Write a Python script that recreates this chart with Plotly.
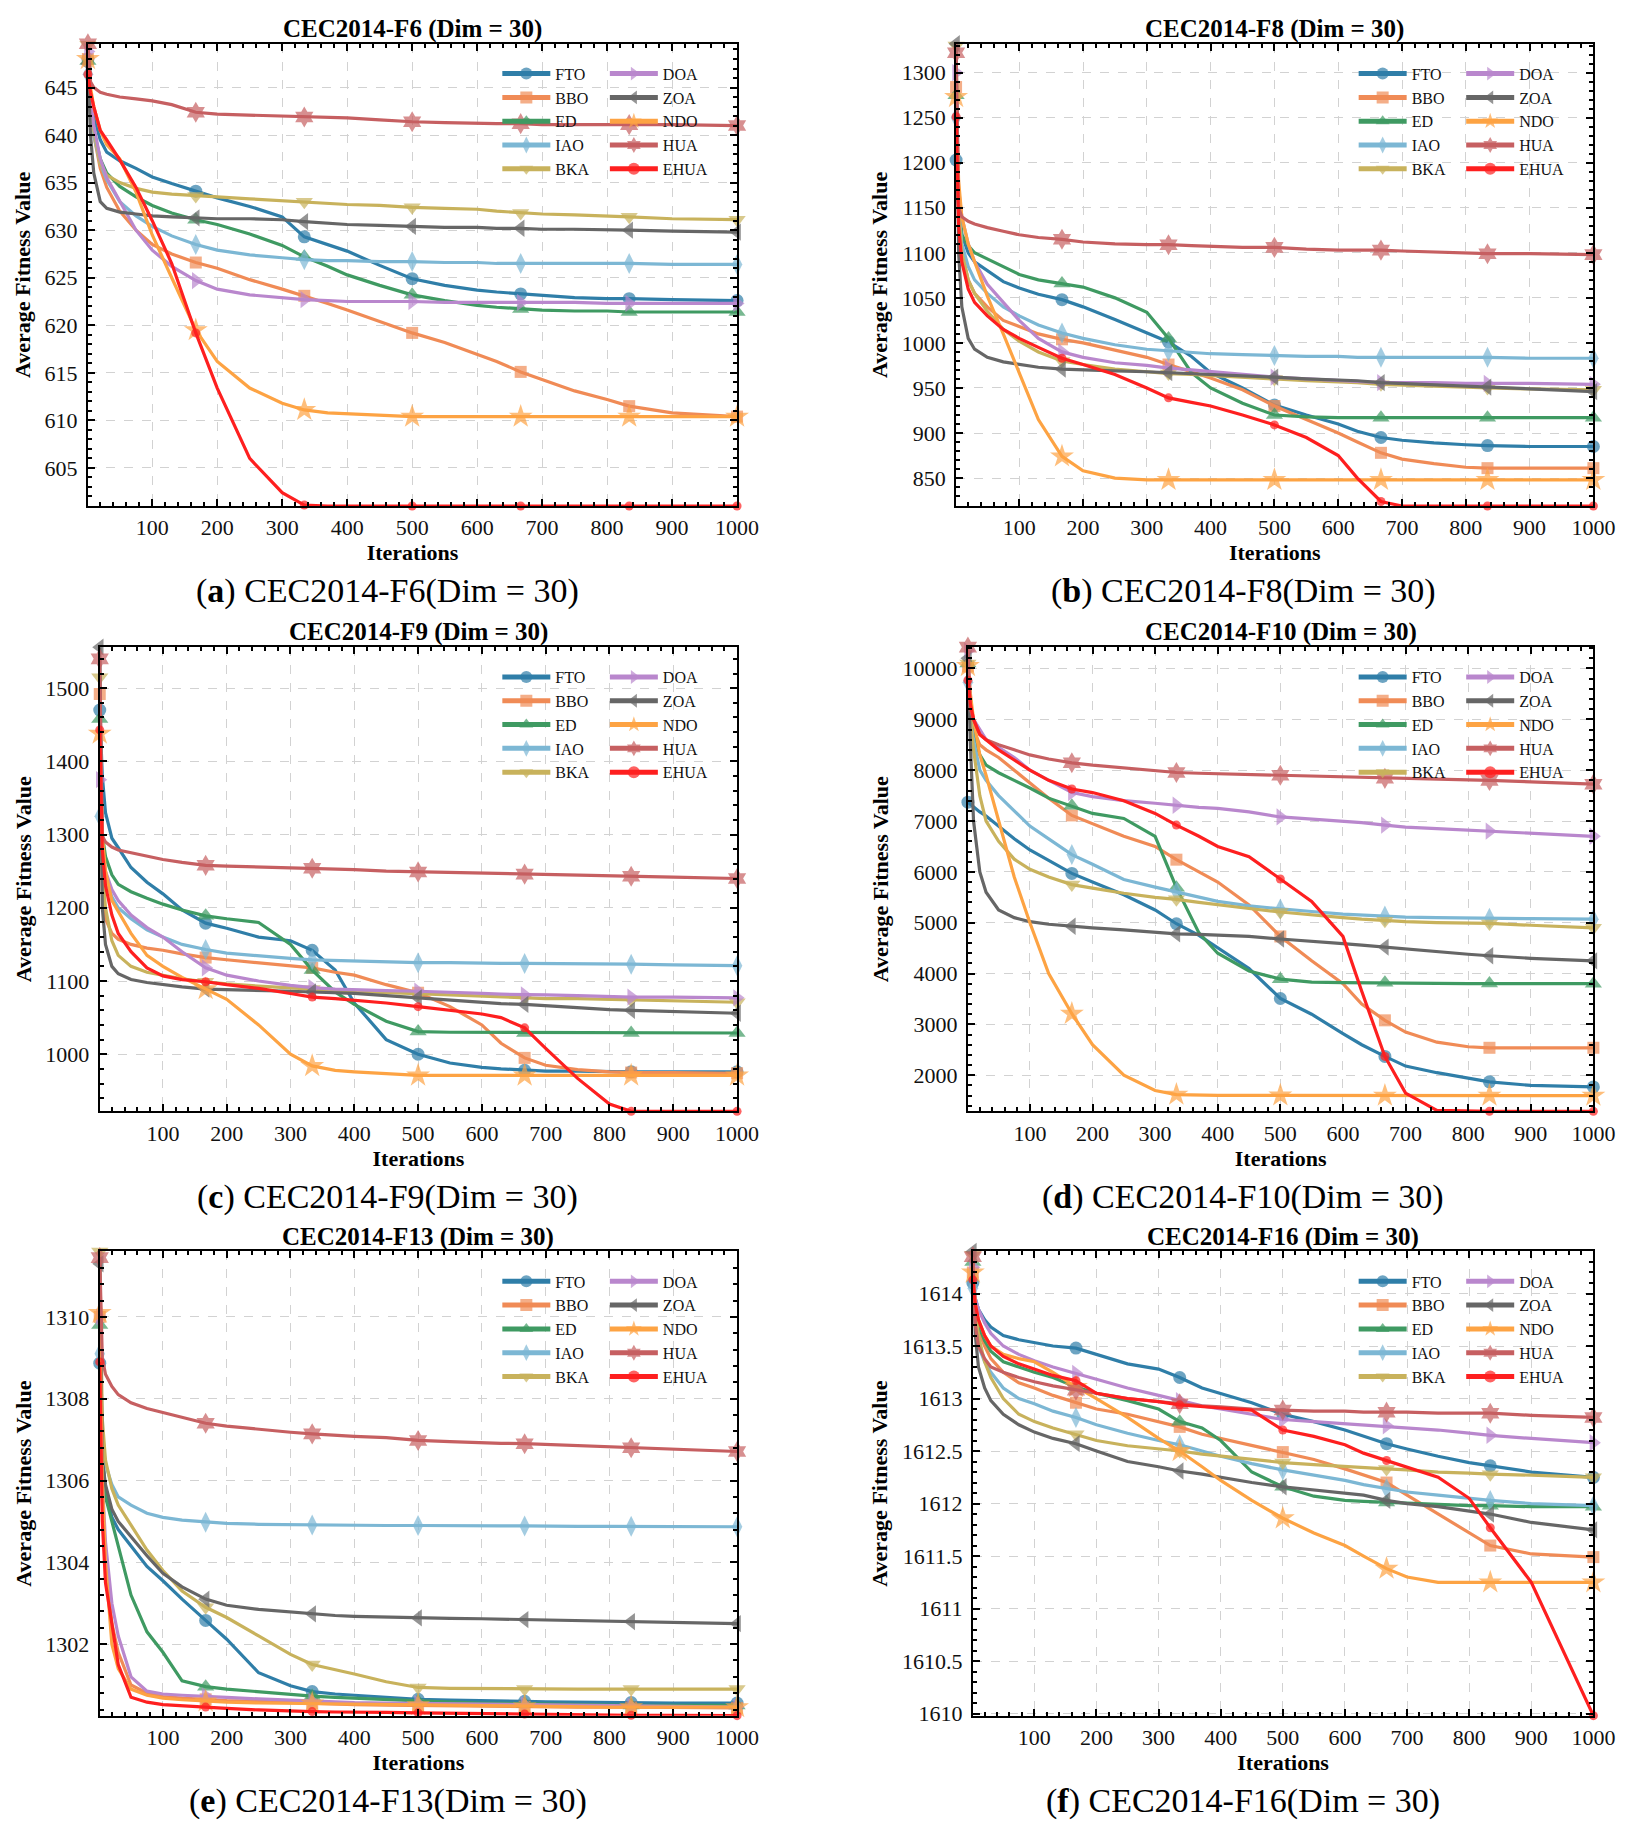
import plotly.graph_objects as go

ALGS = ['FTO', 'BBO', 'ED', 'IAO', 'BKA', 'DOA', 'ZOA', 'NDO', 'HUA', 'EHUA']
ITERS = [1, 5, 10, 20, 30, 50, 75, 100, 130, 167, 200, 250, 300, 334, 370, 400,
         450, 500, 550, 600, 630, 667, 700, 750, 800, 834, 900, 1000]
MARKED = [1, 167, 334, 500, 667, 834, 1000]

# CEC2014-F6
F6_FTO = [648.0, 644.5, 642.0, 639.5, 638.2, 637.3, 636.5, 635.6, 634.9, 634.1, 633.4, 632.5, 631.4, 629.3,
          628.5, 627.8, 626.3, 624.9, 624.2, 623.7, 623.5, 623.3, 623.1, 622.9, 622.8, 622.8, 622.7, 622.6]
F6_BBO = [648.0, 643.0, 640.0, 636.5, 634.5, 632.0, 630.0, 628.5, 627.5, 626.6, 626.0, 624.8, 623.8, 623.1,
          622.3, 621.6, 620.4, 619.2, 618.2, 617.0, 616.2, 615.1, 614.3, 613.1, 612.2, 611.5, 610.8, 610.4]
F6_ED = [647.8, 643.5, 640.5, 637.5, 636.0, 634.6, 633.5, 632.6, 631.8, 631.1, 630.6, 629.6, 628.4, 627.2,
         626.2, 625.3, 624.2, 623.2, 622.6, 622.1, 621.9, 621.7, 621.6, 621.5, 621.5, 621.4, 621.4, 621.4]
F6_IAO = [646.4, 642.5, 640.0, 637.0, 635.3, 633.0, 631.5, 630.4, 629.4, 628.5, 627.9, 627.4, 627.1, 626.9,
          626.8, 626.8, 626.7, 626.7, 626.6, 626.6, 626.5, 626.5, 626.5, 626.5, 626.5, 626.5, 626.4, 626.4]
F6_BKA = [649.5, 644.0, 640.5, 637.0, 635.8, 635.0, 634.4, 634.0, 633.8, 633.6, 633.5, 633.3, 633.1, 633.0,
          632.8, 632.7, 632.6, 632.4, 632.3, 632.2, 632.0, 631.8, 631.7, 631.6, 631.5, 631.4, 631.2, 631.1]
F6_DOA = [648.8, 644.0, 641.0, 637.5, 635.5, 633.0, 630.0, 627.9, 626.2, 624.7, 623.8, 623.2, 622.9, 622.7,
          622.6, 622.5, 622.5, 622.5, 622.4, 622.4, 622.4, 622.4, 622.4, 622.4, 622.3, 622.3, 622.3, 622.3]
F6_ZOA = [647.5, 640.0, 636.0, 633.0, 632.3, 631.9, 631.7, 631.5, 631.4, 631.3, 631.2, 631.2, 631.1, 630.9,
          630.7, 630.6, 630.5, 630.4, 630.3, 630.3, 630.2, 630.2, 630.1, 630.1, 630.0, 630.0, 629.9, 629.8]
F6_NDO = [648.0, 645.0, 643.0, 640.5, 639.0, 637.5, 634.0, 629.5, 625.0, 619.5, 616.2, 613.4, 611.8, 611.1,
          610.8, 610.7, 610.5, 610.4, 610.4, 610.4, 610.4, 610.4, 610.4, 610.4, 610.4, 610.4, 610.4, 610.4]
F6_HUA = [649.6, 645.6, 645.0, 644.5, 644.3, 644.0, 643.8, 643.6, 643.2, 642.4, 642.2, 642.1, 642.0, 641.9,
          641.8, 641.8, 641.6, 641.4, 641.3, 641.2, 641.2, 641.2, 641.1, 641.1, 641.1, 641.1, 641.1, 641.0]
F6_EHUA = [646.4, 644.5, 643.0, 640.5, 639.5, 637.4, 634.5, 631.0, 626.5, 619.2, 613.4, 606.0, 602.4, 601.1,
           601.0, 601.0, 601.0, 601.0, 601.0, 601.0, 601.0, 601.0, 601.0, 601.0, 601.0, 601.0, 601.0, 601.0]

# CEC2014-F8
F8_FTO = [1203, 1150, 1120, 1100, 1090, 1080, 1068, 1061, 1054, 1048, 1040, 1026, 1011, 1001,
          985, 967, 950, 931, 920, 910, 902, 895, 892, 889, 887, 886, 885, 885]
F8_BBO = [1284, 1150, 1100, 1070, 1055, 1040, 1025, 1018, 1010, 1004, 1000, 992, 984, 976,
          968, 961, 948, 930, 915, 900, 890, 878, 871, 866, 862, 861, 861, 861]
F8_ED = [1275, 1160, 1120, 1108, 1100, 1093, 1084, 1076, 1070, 1066, 1062, 1050, 1034, 1005,
         967, 950, 933, 920, 918, 917, 917, 917, 917, 917, 917, 917, 917, 917]
F8_IAO = [1250, 1150, 1110, 1085, 1070, 1055, 1040, 1030, 1020, 1011, 1005, 998, 993, 991,
          989, 988, 987, 986, 985, 985, 984, 984, 984, 984, 984, 984, 983, 983]
F8_BKA = [1330, 1150, 1100, 1070, 1055, 1035, 1015, 1002, 990, 980, 976, 971, 968, 966,
          965, 964, 962, 960, 958, 957, 956, 954, 953, 952, 951, 950, 949, 948]
F8_DOA = [1300, 1170, 1140, 1110, 1090, 1065, 1045, 1025, 1005, 990, 984, 978, 975, 972,
          970, 968, 965, 962, 960, 958, 957, 956, 956, 956, 955, 955, 955, 954]
F8_ZOA = [1332, 1100, 1040, 1005, 993, 984, 979, 976, 973, 971, 970, 969, 968, 967,
          966, 965, 964, 962, 960, 959, 958, 956, 955, 953, 952, 951, 949, 946]
F8_NDO = [1273, 1180, 1140, 1110, 1090, 1052, 1010, 967, 915, 874, 858, 850, 848, 848,
          848, 848, 848, 848, 848, 848, 848, 848, 848, 848, 848, 848, 848, 848]
F8_HUA = [1322, 1150, 1140, 1135, 1132, 1128, 1124, 1120, 1117, 1115, 1112, 1110, 1109, 1109,
          1108, 1107, 1106, 1106, 1104, 1103, 1103, 1103, 1102, 1101, 1100, 1099, 1099, 1098]
F8_EHUA = [1251, 1130, 1090, 1060, 1045, 1030, 1015, 1005, 995, 983, 976, 965, 950, 939,
           934, 930, 920, 909, 895, 875, 850, 824, 819, 819, 819, 819, 819, 819]

# CEC2014-F9
F9_FTO = [1470, 1380, 1330, 1295, 1282, 1255, 1235, 1219, 1197, 1179, 1172, 1160, 1155, 1142,
          1115, 1070, 1020, 1000, 988, 982, 980, 978, 977, 977, 976, 976, 976, 976]
F9_BBO = [1492, 1220, 1185, 1165, 1157, 1150, 1145, 1142, 1137, 1132, 1129, 1125, 1121, 1118,
          1112, 1108, 1095, 1084, 1065, 1040, 1015, 995, 985, 979, 976, 975, 975, 974]
F9_ED = [1458, 1300, 1270, 1245, 1232, 1222, 1213, 1205, 1197, 1189, 1185, 1180, 1150, 1115,
         1085, 1068, 1045, 1031, 1030, 1030, 1029, 1029, 1029, 1029, 1029, 1029, 1029, 1029]
F9_IAO = [1325, 1260, 1240, 1215, 1200, 1185, 1170, 1160, 1150, 1143, 1138, 1134, 1131, 1129,
          1128, 1127, 1126, 1125, 1125, 1124, 1124, 1124, 1124, 1124, 1123, 1123, 1122, 1121]
F9_BKA = [1515, 1250, 1200, 1155, 1135, 1120, 1112, 1108, 1103, 1099, 1096, 1093, 1090, 1089,
          1087, 1086, 1084, 1082, 1080, 1079, 1078, 1077, 1076, 1076, 1075, 1074, 1073, 1071]
F9_DOA = [1375, 1280, 1250, 1225, 1210, 1190, 1173, 1160, 1140, 1118, 1108, 1100, 1094, 1091,
          1089, 1088, 1087, 1086, 1085, 1083, 1082, 1081, 1081, 1080, 1079, 1078, 1078, 1077]
F9_ZOA = [1556, 1200, 1150, 1120, 1110, 1102, 1098, 1095, 1092, 1089, 1088, 1087, 1086, 1085,
          1084, 1083, 1080, 1077, 1074, 1071, 1069, 1068, 1066, 1063, 1061, 1060, 1058, 1056]
F9_NDO = [1438, 1300, 1250, 1210, 1195, 1165, 1135, 1120, 1105, 1089, 1075, 1040, 1000, 984,
          978, 976, 973, 971, 971, 971, 971, 971, 971, 971, 971, 971, 971, 971]
F9_HUA = [1540, 1298, 1290, 1283, 1279, 1275, 1270, 1266, 1262, 1258, 1257, 1256, 1255, 1254,
          1253, 1252, 1250, 1249, 1248, 1247, 1247, 1246, 1246, 1245, 1244, 1243, 1242, 1240]
F9_EHUA = [1443, 1280, 1230, 1190, 1165, 1140, 1118, 1107, 1102, 1099, 1095, 1090, 1083, 1078,
           1076, 1074, 1070, 1065, 1060, 1055, 1050, 1036, 1008, 967, 932, 922, 922, 922]

# CEC2014-F10
F10_FTO = [7370, 7330, 7280, 7180, 7100, 6900, 6650, 6430, 6230, 5970, 5800, 5550, 5250, 4980,
           4750, 4500, 4100, 3510, 3200, 2820, 2600, 2370, 2180, 2050, 1950, 1870, 1800, 1770]
F10_BBO = [10040, 9200, 8800, 8500, 8400, 8250, 8000, 7750, 7450, 7110, 6950, 6700, 6500, 6240,
           6000, 5800, 5350, 4730, 4250, 3800, 3400, 3080, 2850, 2650, 2560, 2540, 2540, 2540]
F10_ED = [10100, 9000, 8700, 8300, 8100, 7950, 7800, 7650, 7450, 7300, 7150, 7050, 6700, 5690,
          4800, 4400, 4050, 3890, 3830, 3820, 3820, 3817, 3810, 3805, 3803, 3802, 3801, 3800]
F10_IAO = [9730, 9000, 8600, 8000, 7800, 7500, 7200, 6900, 6650, 6340, 6150, 5850, 5700, 5610,
           5500, 5420, 5330, 5270, 5220, 5170, 5150, 5130, 5110, 5100, 5090, 5090, 5080, 5070]
F10_BKA = [10100, 9000, 8400, 7500, 7000, 6600, 6250, 6050, 5900, 5750, 5680, 5580, 5500, 5460,
           5400, 5350, 5280, 5210, 5150, 5100, 5070, 5040, 5020, 5000, 4990, 4985, 4950, 4900]
F10_DOA = [10350, 9300, 9000, 8800, 8600, 8450, 8250, 8000, 7800, 7560, 7480, 7400, 7350, 7310,
           7270, 7250, 7180, 7080, 7040, 7000, 6970, 6920, 6880, 6850, 6820, 6800, 6760, 6700]
F10_ZOA = [10200, 8500, 7000, 6000, 5600, 5250, 5100, 5020, 4970, 4930, 4900, 4860, 4820, 4780,
           4770, 4760, 4730, 4680, 4640, 4590, 4560, 4520, 4480, 4420, 4380, 4350, 4300, 4250]
F10_NDO = [10050, 9500, 9000, 8300, 7900, 7000, 5900, 5000, 4000, 3210, 2600, 2000, 1700, 1620,
           1605, 1603, 1603, 1603, 1602, 1602, 1602, 1601, 1601, 1601, 1600, 1600, 1600, 1600]
F10_HUA = [10420, 9200, 9000, 8700, 8600, 8500, 8400, 8300, 8220, 8145, 8100, 8050, 8000, 7954,
           7940, 7930, 7915, 7900, 7880, 7870, 7860, 7840, 7835, 7825, 7810, 7800, 7770, 7725]
F10_EHUA = [9770, 9300, 9000, 8700, 8600, 8400, 8200, 8000, 7800, 7630, 7560, 7400, 7150, 6920,
            6700, 6500, 6300, 5860, 5420, 4730, 3650, 2370, 1650, 1310, 1292, 1290, 1290, 1290]

# CEC2014-F13
F13_FTO = [1308.87, 1306.5, 1305.8, 1305.1, 1304.8, 1304.4, 1303.9, 1303.55, 1303.1, 1302.58,
           1302.12, 1301.3, 1300.98, 1300.84, 1300.78, 1300.75, 1300.7, 1300.65, 1300.63, 1300.61,
           1300.6, 1300.6, 1300.59, 1300.58, 1300.57, 1300.57, 1300.56, 1300.56]
F13_BBO = [1310.0, 1305.5, 1304.0, 1302.5, 1301.8, 1301.0, 1300.8, 1300.72, 1300.68, 1300.65,
           1300.62, 1300.6, 1300.57, 1300.55, 1300.53, 1300.52, 1300.51, 1300.5, 1300.49, 1300.48,
           1300.48, 1300.47, 1300.47, 1300.46, 1300.46, 1300.45, 1300.45, 1300.44]
F13_ED = [1309.8, 1306.8, 1305.6, 1305.0, 1304.4, 1303.2, 1302.3, 1301.8, 1301.1, 1300.96,
          1300.9, 1300.83, 1300.77, 1300.73, 1300.7, 1300.68, 1300.64, 1300.6, 1300.58, 1300.56,
          1300.55, 1300.54, 1300.53, 1300.52, 1300.51, 1300.5, 1300.5, 1300.5]
F13_IAO = [1309.1, 1307.0, 1306.4, 1305.9, 1305.6, 1305.4, 1305.2, 1305.1, 1305.03, 1304.98,
           1304.95, 1304.93, 1304.92, 1304.91, 1304.9, 1304.9, 1304.9, 1304.9, 1304.89, 1304.89,
           1304.89, 1304.89, 1304.88, 1304.88, 1304.88, 1304.88, 1304.87, 1304.87]
F13_BKA = [1311.6, 1307.5, 1306.5, 1305.8, 1305.4, 1304.9, 1304.3, 1303.8, 1303.3, 1302.9,
           1302.65, 1302.2, 1301.75, 1301.5, 1301.38, 1301.27, 1301.08, 1300.94, 1300.92, 1300.91,
           1300.91, 1300.9, 1300.9, 1300.9, 1300.9, 1300.9, 1300.9, 1300.9]
F13_DOA = [1310.0, 1306.0, 1304.5, 1303.0, 1302.2, 1301.2, 1300.85, 1300.78, 1300.75, 1300.73,
           1300.7, 1300.66, 1300.63, 1300.6, 1300.58, 1300.57, 1300.56, 1300.55, 1300.54, 1300.53,
           1300.52, 1300.52, 1300.51, 1300.5, 1300.49, 1300.48, 1300.47, 1300.46]
F13_ZOA = [1311.3, 1306.5, 1305.9, 1305.3, 1305.0, 1304.63, 1304.16, 1303.73, 1303.4, 1303.1,
           1302.95, 1302.85, 1302.78, 1302.74, 1302.7, 1302.68, 1302.66, 1302.64, 1302.63, 1302.62,
           1302.61, 1302.6, 1302.59, 1302.57, 1302.56, 1302.55, 1302.53, 1302.5]
F13_NDO = [1310.1, 1306.0, 1304.0, 1302.0, 1301.4, 1300.9, 1300.75, 1300.68, 1300.64, 1300.6,
           1300.58, 1300.56, 1300.55, 1300.55, 1300.54, 1300.53, 1300.52, 1300.51, 1300.5, 1300.49,
           1300.48, 1300.48, 1300.47, 1300.47, 1300.46, 1300.46, 1300.46, 1300.46]
F13_HUA = [1311.45, 1309.0, 1308.6, 1308.3, 1308.1, 1307.9, 1307.76, 1307.66, 1307.55, 1307.4,
           1307.33, 1307.25, 1307.18, 1307.14, 1307.1, 1307.08, 1307.05, 1306.98, 1306.95, 1306.92,
           1306.91, 1306.9, 1306.88, 1306.85, 1306.82, 1306.8, 1306.76, 1306.71]
F13_EHUA = [1308.9, 1305.0, 1303.5, 1302.5, 1301.5, 1300.7, 1300.58, 1300.52, 1300.49, 1300.46,
            1300.43, 1300.39, 1300.36, 1300.35, 1300.34, 1300.34, 1300.33, 1300.32, 1300.31, 1300.3,
            1300.3, 1300.29, 1300.28, 1300.27, 1300.27, 1300.26, 1300.26, 1300.25]

# CEC2014-F16
F16_FTO = [1614.1, 1613.95, 1613.85, 1613.75, 1613.68, 1613.6, 1613.56, 1613.53, 1613.5, 1613.48,
           1613.42, 1613.33, 1613.28, 1613.2, 1613.1, 1613.05, 1612.96, 1612.85, 1612.78, 1612.7,
           1612.64, 1612.57, 1612.52, 1612.45, 1612.39, 1612.36, 1612.3, 1612.25]
F16_BBO = [1614.2, 1613.85, 1613.65, 1613.5, 1613.38, 1613.25, 1613.15, 1613.1, 1613.03, 1612.96,
           1612.9, 1612.85, 1612.78, 1612.73, 1612.66, 1612.62, 1612.55, 1612.49, 1612.42, 1612.33,
           1612.27, 1612.2, 1612.08, 1611.9, 1611.72, 1611.6, 1611.52, 1611.49]
F16_ED = [1614.3, 1613.85, 1613.7, 1613.55, 1613.45, 1613.35, 1613.3, 1613.25, 1613.2, 1613.11,
          1613.05, 1612.98, 1612.9, 1612.78, 1612.72, 1612.6, 1612.3, 1612.16, 1612.07, 1612.03,
          1612.02, 1612.01, 1612.0, 1611.99, 1611.98, 1611.98, 1611.97, 1611.97]
F16_IAO = [1614.05, 1613.7, 1613.5, 1613.35, 1613.25, 1613.1, 1613.0, 1612.95, 1612.88, 1612.82,
           1612.75, 1612.67, 1612.6, 1612.56, 1612.5, 1612.45, 1612.38, 1612.32, 1612.27, 1612.22,
           1612.18, 1612.14, 1612.11, 1612.08, 1612.05, 1612.03, 1612.0, 1611.98]
F16_BKA = [1614.37, 1613.85, 1613.6, 1613.35, 1613.2, 1613.0, 1612.85, 1612.78, 1612.72, 1612.66,
           1612.6, 1612.55, 1612.52, 1612.5, 1612.47, 1612.45, 1612.42, 1612.39, 1612.37, 1612.35,
           1612.34, 1612.33, 1612.32, 1612.3, 1612.29, 1612.28, 1612.27, 1612.25]
F16_DOA = [1614.25, 1613.95, 1613.85, 1613.72, 1613.62, 1613.5, 1613.42, 1613.36, 1613.3, 1613.24,
           1613.18, 1613.1, 1613.03, 1612.98, 1612.93, 1612.9, 1612.85, 1612.8, 1612.78, 1612.76,
           1612.75, 1612.74, 1612.72, 1612.7, 1612.67, 1612.65, 1612.62, 1612.58]
F16_ZOA = [1614.4, 1613.6, 1613.3, 1613.1, 1612.98, 1612.85, 1612.75, 1612.68, 1612.62, 1612.57,
           1612.5, 1612.4, 1612.35, 1612.31, 1612.28, 1612.25, 1612.2, 1612.16, 1612.13, 1612.1,
           1612.08, 1612.03, 1612.0, 1611.97, 1611.93, 1611.9, 1611.82, 1611.75]
F16_NDO = [1614.2, 1613.9, 1613.75, 1613.6, 1613.5, 1613.42, 1613.38, 1613.35, 1613.25, 1613.11,
           1613.0, 1612.82, 1612.62, 1612.5, 1612.35, 1612.22, 1612.03, 1611.86, 1611.72, 1611.6,
           1611.5, 1611.38, 1611.3, 1611.25, 1611.25, 1611.25, 1611.25, 1611.25]
F16_HUA = [1614.35, 1613.7, 1613.5, 1613.38, 1613.3, 1613.25, 1613.2, 1613.16, 1613.12, 1613.08,
           1613.05, 1613.0, 1612.97, 1612.95, 1612.93, 1612.92, 1612.9, 1612.89, 1612.88, 1612.88,
           1612.87, 1612.87, 1612.87, 1612.86, 1612.86, 1612.86, 1612.84, 1612.82]
F16_EHUA = [1614.13, 1613.9, 1613.75, 1613.6, 1613.5, 1613.4, 1613.33, 1613.28, 1613.22, 1613.17,
            1613.05, 1613.0, 1612.97, 1612.94, 1612.92, 1612.91, 1612.89, 1612.7, 1612.64, 1612.56,
            1612.48, 1612.41, 1612.34, 1612.25, 1612.05, 1611.77, 1611.25, 1609.98]

TITLES = ['CEC2014-F6 (Dim = 30)', 'CEC2014-F8 (Dim = 30)', 'CEC2014-F9 (Dim = 30)',
          'CEC2014-F10 (Dim = 30)', 'CEC2014-F13 (Dim = 30)', 'CEC2014-F16 (Dim = 30)']
CAPTIONS = ['(<b>a</b>) CEC2014-F6(Dim = 30)', '(<b>b</b>) CEC2014-F8(Dim = 30)',
            '(<b>c</b>) CEC2014-F9(Dim = 30)', '(<b>d</b>) CEC2014-F10(Dim = 30)',
            '(<b>e</b>) CEC2014-F13(Dim = 30)', '(<b>f</b>) CEC2014-F16(Dim = 30)']
Y_DTICK = [5, 50, 100, 1000, 2, 0.5]
Y_FORMAT = ['d', 'd', 'd', 'd', 'd', '.1~f']

PANELS = [
    [F6_FTO, F6_BBO, F6_ED, F6_IAO, F6_BKA, F6_DOA, F6_ZOA, F6_NDO, F6_HUA, F6_EHUA],
    [F8_FTO, F8_BBO, F8_ED, F8_IAO, F8_BKA, F8_DOA, F8_ZOA, F8_NDO, F8_HUA, F8_EHUA],
    [F9_FTO, F9_BBO, F9_ED, F9_IAO, F9_BKA, F9_DOA, F9_ZOA, F9_NDO, F9_HUA, F9_EHUA],
    [F10_FTO, F10_BBO, F10_ED, F10_IAO, F10_BKA, F10_DOA, F10_ZOA, F10_NDO, F10_HUA, F10_EHUA],
    [F13_FTO, F13_BBO, F13_ED, F13_IAO, F13_BKA, F13_DOA, F13_ZOA, F13_NDO, F13_HUA, F13_EHUA],
    [F16_FTO, F16_BBO, F16_ED, F16_IAO, F16_BKA, F16_DOA, F16_ZOA, F16_NDO, F16_HUA, F16_EHUA],
]

# styles
COLORS = ['#2f7ea8', '#f08b56', '#3f9a62', '#7cb7d4', '#c8b25c',
          '#b987cd', '#666666', '#fda343', '#c65f61', '#fe1f1f']
SYMBOLS = ['circle', 'square', 'triangle-up', 'diamond-tall', 'triangle-down',
           'triangle-right', 'triangle-left', 'star', 'hexagram', 'circle']
MSIZES = [13, 12, 15, 15, 15, 15, 15, 18, 16, 9]

W, H = 1636, 1833
FONT = 'Liberation Serif'
# plot boxes in pixels: (left, right, top, bottom)
BOXES = [(81, 739, 36, 501), (961, 1607, 36, 501),
         (93, 739, 643, 1110), (973, 1607, 643, 1110),
         (93, 739, 1251, 1718), (978, 1607, 1251, 1718)]


def fx(p):
    return p / W


def fy(p):
    return 1 - p / H


fig = go.Figure()
layout = dict(width=W, height=H, margin=dict(l=0, r=0, t=0, b=0),
              plot_bgcolor='white', paper_bgcolor='white',
              font=dict(family=FONT, color='black'), annotations=[])

for k, series in enumerate(PANELS):
    xa = 'x' if k == 0 else f'x{k + 1}'
    ya = 'y' if k == 0 else f'y{k + 1}'
    left, right, top, bottom = BOXES[k]
    for i, alg in enumerate(ALGS):
        col = i // 5
        leg_n = 2 * k + col + 1
        leg = 'legend' if leg_n == 1 else f'legend{leg_n}'
        sizes = [MSIZES[i] if it in MARKED else 0 for it in ITERS]
        fig.add_trace(go.Scatter(
            x=ITERS, y=series[i], xaxis=xa, yaxis=ya, name=alg, legend=leg,
            mode='lines+markers', cliponaxis=False,
            line=dict(color=COLORS[i], width=3.2),
            marker=dict(symbol=SYMBOLS[i], size=sizes, color=COLORS[i], line=dict(width=0)),
        ))

    all_vals = [v for s in series for v in s]
    lo, hi = min(all_vals), max(all_vals)

    axis_common = dict(showline=True, linecolor='black', linewidth=2, mirror='allticks',
                       ticks='inside', ticklen=7, tickwidth=1.5, tickcolor='black',
                       showgrid=True, gridcolor='#d2d2d2', griddash='dash', gridwidth=1.3,
                       zeroline=False, tickfont=dict(family=FONT, size=22, color='#111'))
    layout['xaxis' if k == 0 else f'xaxis{k + 1}'] = dict(
        axis_common, domain=[fx(left), fx(right)], anchor=ya, range=[1, 1000],
        tick0=0, dtick=100, ticklabelstandoff=1,
        minor=dict(dtick=20, tick0=0, ticks='inside', ticklen=4, tickcolor='black', showgrid=False),
        title=dict(text='<b>Iterations</b>', font=dict(family=FONT, size=22), standoff=5))
    d = Y_DTICK[k]
    layout['yaxis' if k == 0 else f'yaxis{k + 1}'] = dict(
        axis_common, domain=[fy(bottom), fy(top)], anchor=xa, range=[lo, hi],
        tick0=0, dtick=d, tickformat=Y_FORMAT[k], ticklabelstandoff=4,
        minor=dict(dtick=d / 5, tick0=0, ticks='inside', ticklen=4, tickcolor='black', showgrid=False),
        title=dict(text='<b>Average Fitness Value</b>', font=dict(family=FONT, size=22), standoff=8))

    for col, off in enumerate([243, 134]):
        leg_n = 2 * k + col + 1
        layout['legend' if leg_n == 1 else f'legend{leg_n}'] = dict(
            x=fx(right - off), y=fy(top + 13), xanchor='left', yanchor='top',
            bgcolor='rgba(0,0,0,0)', borderwidth=0, tracegroupgap=0, itemwidth=48,
            itemsizing='constant', font=dict(family=FONT, size=16, color='#111'))

    layout['annotations'].append(dict(
        text=f'<b>{TITLES[k]}</b>', x=fx((left + right) / 2), y=fy(top - 15),
        xref='paper', yref='paper', xanchor='center', yanchor='middle', showarrow=False,
        font=dict(family=FONT, size=25, color='black')))
    cx = 385 if k % 2 == 0 else 1252
    layout['annotations'].append(dict(
        text=CAPTIONS[k], x=fx(cx), y=fy(bottom + 86),
        xref='paper', yref='paper', xanchor='center', yanchor='middle', showarrow=False,
        font=dict(family=FONT, size=34, color='black')))

fig.update_layout(**layout)
fig.write_html('out.html')
